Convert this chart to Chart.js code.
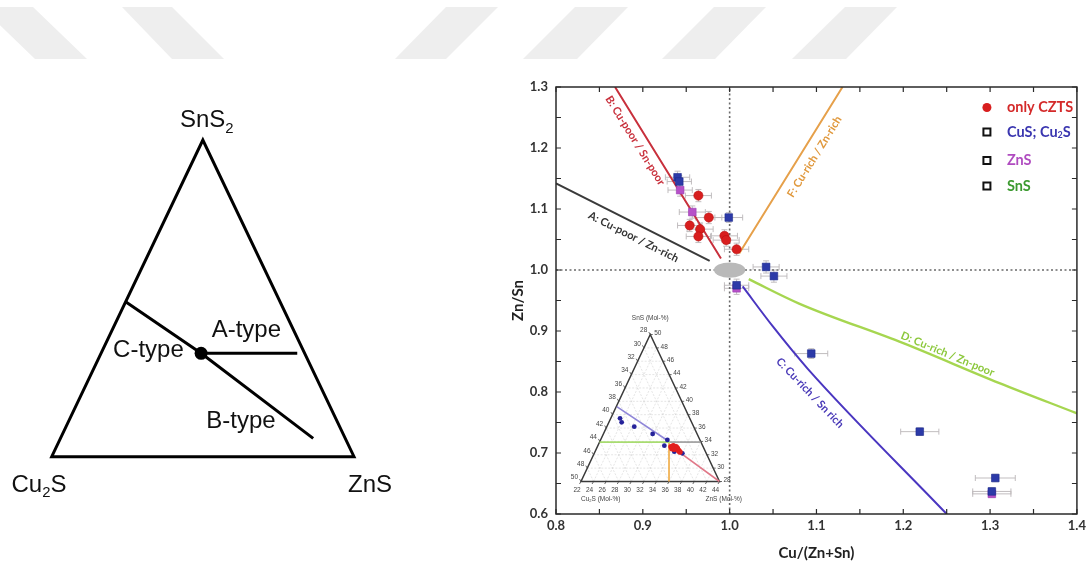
<!DOCTYPE html>
<html>
<head>
<meta charset="utf-8">
<title>CZTS composition map</title>
<script src="https://cdn.jsdelivr.net/npm/chart.js@4.4.1/dist/chart.umd.min.js"></script>
<style>
  html, body { margin: 0; padding: 0; background: #fff; }
  #stage { position: relative; width: 1090px; height: 562px; overflow: hidden; background: #fff; }
  #stage svg, #stage canvas { position: absolute; left: 0; top: 0; }
</style>
</head>
<body>
<div id="stage">
  <svg width="1090" height="562" aria-hidden="true">
    <g fill="#eeeeee">
      <polygon points="-19,7 33,7 87,59 35,59"/>
      <polygon points="122,7 172,7 224,59 172,59"/>
      <polygon points="446,7 498,7 446,59 395,59"/>
      <polygon points="575,7 628,7 577,59 523,59"/>
      <polygon points="714,7 766,7 715,59 662,59"/>
      <polygon points="845,7 897,7 846,59 792,59"/>
    </g>
  </svg>
  <canvas id="phase" width="1090" height="562"></canvas>
  <canvas id="ratio" width="1090" height="562"></canvas>
  <canvas id="inset" width="1090" height="562"></canvas>
</div>
<script>
// ---------------- phase diagram: compositions as [Cu2S, ZnS, SnS2] ----------------
const phaseOutline = [[1, 0, 0], [0, 1, 0], [0, 0, 1], [1, 0, 0], [0, 1, 0]];
const cbTypeLine   = [[0.511, 0, 0.489], [0.3425, 0.331, 0.3265], [0.106, 0.836, 0.058]];
const aTypeLine    = [[0.3425, 0.331, 0.3265], [0.0245, 0.649, 0.3265]];
const stoichPoint  = [[0.3425, 0.331, 0.3265]];

// ---------------- ratio map: Cu/(Zn+Sn) vs Zn/Sn ----------------
const xTickValues = [0.8, 0.9, 1.0, 1.1, 1.2, 1.3, 1.4];
const yTickValues = [0.6, 0.7, 0.8, 0.9, 1.0, 1.1, 1.2, 1.3];

const cztsX    = [0.964, 0.976, 0.954, 0.966, 0.964, 0.994, 0.996, 1.008];
const cztsY    = [1.122, 1.086, 1.073, 1.067, 1.055, 1.056, 1.049, 1.034];
const cztsXErr = [0.015, 0.015, 0.014, 0.015, 0.014, 0.015, 0.015, 0.014];
const cztsYErr = [0.010, 0.010, 0.010, 0.010, 0.010, 0.010, 0.010, 0.010];

const cuSX    = [0.940, 0.942, 0.999, 1.042, 1.051, 1.008, 1.094, 1.219, 1.306, 1.302];
const cuSY    = [1.152, 1.145, 1.086, 1.005, 0.990, 0.975, 0.863, 0.735, 0.659, 0.637];
const cuSXErr = [0.014, 0.014, 0.016, 0.015, 0.015, 0.014, 0.019, 0.022, 0.023, 0.022];
const cuSYErr = [0.010, 0.010, 0.008, 0.010, 0.010, 0.010, 0.008, 0.006, 0.006, 0.006];

const znSX    = [0.943, 0.957, 1.008, 1.302];
const znSY    = [1.131, 1.095, 0.970, 0.633];
const znSXErr = [0.014, 0.015, 0.014, 0.022];
const znSYErr = [0.010, 0.010, 0.010, 0.006];

const guideH = [[0.8, 1.0], [1.4, 1.0]];
const guideV = [[1.0, 0.6], [1.0, 1.3]];

const lineA = [[0.800, 1.142], [0.977, 1.015]];
const lineB = [[0.868, 1.300], [0.990, 1.019]];
const lineF = [[1.011, 1.027], [1.130, 1.300]];
const lineD = [[1.022, 0.985], [1.080, 0.945], [1.200, 0.880], [1.310, 0.815], [1.400, 0.765]];
const lineC = [[1.015, 0.973], [1.050, 0.907], [1.090, 0.838], [1.250, 0.600]];

// stoichiometric region around Cu/(Zn+Sn) = Zn/Sn = 1
const stoichCentre = [1.0, 1.0];
const stoichHalf   = [0.018, 0.0125];

// ---------------- inset ternary (local triangle frame, 11 divisions) ----------------
const insetBottomTicks = ['22', '24', '26', '28', '30', '32', '34', '36', '38', '40', '42', '44'];
const insetSideTicks   = ['28', '30', '32', '34', '36', '38', '40', '42', '44', '46', '48', '50'];
const insetCuRich = [[3.10, 4.73], [3.23, 4.43], [4.23, 4.10], [5.69, 3.56], [6.86, 3.11], [6.62, 2.68], [7.41, 2.23], [8.05, 2.11]];
const insetCzts   = [[7.15, 2.60], [7.33, 2.68], [7.55, 2.60], [7.65, 2.49], [7.41, 2.41], [7.23, 2.46], [7.76, 2.31], [7.86, 2.21]];
const insetLineC = [[2.84, 5.60], [6.93, 3.03]];
const insetLineD = [[1.47, 2.95], [7.07, 2.95]];
const insetLineA = [[7.07, 2.95], [9.52, 2.95]];
const insetLineF = [[6.99, 2.95], [6.99, 0]];
const insetLineB = [[7.86, 2.16], [11, 0]];

// ---------------- helpers ----------------
const ternPlot = c => ({ x: c[1] + c[2] / 2, y: c[2] });
const pairs = arr => arr.map(p => ({ x: p[0], y: p[1] }));
const zipXY = (xs, ys) => xs.map((v, i) => ({ x: v, y: ys[i] }));

// split "Cu_2S" into plain and subscript runs
function runs(str) {
  const out = []; const re = /_(\d)/g; let last = 0, m;
  while ((m = re.exec(str))) {
    if (m.index > last) out.push({ t: str.slice(last, m.index), sub: false });
    out.push({ t: m[1], sub: true });
    last = re.lastIndex;
  }
  if (last < str.length) out.push({ t: str.slice(last), sub: false });
  return out;
}
function drawRich(ctx, str, x, y, size, family, weight, align, color) {
  const parts = runs(str);
  const f = s => `${weight} ${s}px ${family}`;
  let w = 0;
  parts.forEach(p => { ctx.font = f(p.sub ? size * 0.62 : size); p.w = ctx.measureText(p.t).width; w += p.w; });
  let cx = align === 'center' ? x - w / 2 : align === 'right' ? x - w : x;
  ctx.fillStyle = color; ctx.textAlign = 'left';
  parts.forEach(p => {
    ctx.font = f(p.sub ? size * 0.62 : size);
    ctx.fillText(p.t, cx, p.sub ? y + size * 0.22 : y);
    cx += p.w;
  });
}

const baseOpts = {
  responsive: false, animation: false, events: [], devicePixelRatio: 1,
  plugins: { legend: { display: false }, tooltip: { enabled: false } }
};

// ================= left: phase triangle =================
const phaseNames = [
  { text: 'SnS_2',  at: [0.513, 1.040] },
  { text: 'Cu_2S',  at: [-0.042, -0.1105] },
  { text: 'ZnS',    at: [1.053, -0.1105] },
  { text: 'A-type', at: [0.644, 0.379] },
  { text: 'C-type', at: [0.320, 0.316] },
  { text: 'B-type', at: [0.626, 0.090] }
];
const phaseLabels = {
  id: 'phaseLabels',
  afterDraw(chart) {
    const { ctx, scales: { x, y } } = chart;
    ctx.save(); ctx.textBaseline = 'alphabetic';
    phaseNames.forEach(n => drawRich(ctx, n.text, x.getPixelForValue(n.at[0]), y.getPixelForValue(n.at[1]),
      24, '"Liberation Sans", Arial, sans-serif', 'normal', 'center', '#111'));
    ctx.restore();
  }
};
const blackLine = { showLine: true, borderColor: '#000', borderWidth: 3, pointRadius: 0, clip: false, borderJoinStyle: 'miter' };
new Chart(document.getElementById('phase'), {
  type: 'scatter',
  data: { datasets: [
    { ...blackLine, data: phaseOutline.map(ternPlot), order: 3 },
    { ...blackLine, data: cbTypeLine.map(ternPlot), order: 2 },
    { ...blackLine, data: aTypeLine.map(ternPlot), order: 1 },
    { data: stoichPoint.map(ternPlot), pointRadius: 6.5, backgroundColor: '#000', borderWidth: 0, clip: false, order: 0 }
  ] },
  options: { ...baseOpts,
    layout: { padding: { left: 51.7, top: 140, right: 736, bottom: 105.3 } },
    scales: { x: { display: false, min: 0, max: 1 }, y: { display: false, min: 0, max: 1 } } },
  plugins: [phaseLabels]
});

// ================= right: ratio map =================
const lineNotes = [
  { text: 'A: Cu-poor / Zn-rich', line: lineA, at: 0.896, offset: -13, color: '#333333' },
  { text: 'B: Cu-poor / Sn-poor', line: lineB, at: 0.902, offset: -11, color: '#c8303c' },
  { text: 'F: Cu-rich / Zn-rich', line: lineF, at: 1.085, offset: -13, color: '#e0983c' },
  { text: 'D: Cu-rich / Zn-poor', line: lineD, at: 1.248, offset: 7,   color: '#8cc83c' },
  { text: 'C: Cu-rich / Sn rich', line: lineC, at: 1.105, offset: -15, color: '#4a3ab8' }
];
const legendItems = [
  { text: 'only CZTS',  color: '#d42a2a', marker: 'dot', dy: 20.5 },
  { text: 'CuS; Cu_2S', color: '#3a36b0', marker: 'box', dy: 45 },
  { text: 'ZnS',        color: '#b04cc0', marker: 'box', dy: 73.5 },
  { text: 'SnS',        color: '#3c9a30', marker: 'box', dy: 99 }
];

const framePlugin = {
  id: 'frame',
  afterDraw(chart) {
    const { ctx, chartArea: a, scales: { x, y } } = chart;
    ctx.save();
    ctx.strokeStyle = '#2a2a2a'; ctx.lineWidth = 1.5;
    ctx.strokeRect(a.left, a.top, a.right - a.left, a.bottom - a.top);
    ctx.lineWidth = 1.2; ctx.beginPath();
    const nx = Math.round((x.max - x.min) / 0.05), ny = Math.round((y.max - y.min) / 0.05);
    for (let i = 0; i <= nx; i++) {
      const px = x.getPixelForValue(x.min + i * 0.05);
      ctx.moveTo(px, a.bottom); ctx.lineTo(px, a.bottom - 5);
      ctx.moveTo(px, a.top); ctx.lineTo(px, a.top + 5);
    }
    for (let i = 0; i <= ny; i++) {
      const py = y.getPixelForValue(y.min + i * 0.05);
      ctx.moveTo(a.left, py); ctx.lineTo(a.left + 5, py);
      ctx.moveTo(a.right, py); ctx.lineTo(a.right - 5, py);
    }
    ctx.stroke(); ctx.restore();
  }
};

const errorBars = {
  id: 'errorBars',
  beforeDatasetsDraw(chart) {
    const { ctx, scales: { x, y } } = chart;
    ctx.save(); ctx.strokeStyle = 'rgba(190,185,188,0.95)'; ctx.lineWidth = 1;
    chart.data.datasets.forEach(ds => {
      if (!ds.errX) return;
      ds.data.forEach((p, j) => {
        const cx = x.getPixelForValue(p.x), cy = y.getPixelForValue(p.y);
        const x0 = x.getPixelForValue(p.x - ds.errX[j]), x1 = x.getPixelForValue(p.x + ds.errX[j]);
        const y0 = y.getPixelForValue(p.y - ds.errY[j]), y1 = y.getPixelForValue(p.y + ds.errY[j]);
        ctx.beginPath();
        ctx.moveTo(x0, cy); ctx.lineTo(x1, cy);
        ctx.moveTo(x0, cy - 3); ctx.lineTo(x0, cy + 3);
        ctx.moveTo(x1, cy - 3); ctx.lineTo(x1, cy + 3);
        ctx.moveTo(cx, y0); ctx.lineTo(cx, y1);
        ctx.moveTo(cx - 3, y0); ctx.lineTo(cx + 3, y0);
        ctx.moveTo(cx - 3, y1); ctx.lineTo(cx + 3, y1);
        ctx.stroke();
      });
    });
    ctx.restore();
  }
};

const stoichPatch = {
  id: 'stoichPatch',
  afterDatasetDraw(chart, args) {
    if (!chart.data.datasets[args.index].stoichAfter) return;
    const { ctx, scales: { x, y } } = chart;
    const cx = x.getPixelForValue(stoichCentre[0]), cy = y.getPixelForValue(stoichCentre[1]);
    const rx = Math.abs(x.getPixelForValue(stoichCentre[0] + stoichHalf[0]) - cx);
    const ry = Math.abs(y.getPixelForValue(stoichCentre[1] + stoichHalf[1]) - cy);
    ctx.save(); ctx.fillStyle = '#b9b9b9';
    ctx.beginPath(); ctx.ellipse(cx, cy, rx, ry, 0, 0, Math.PI * 2); ctx.fill();
    ctx.restore();
  }
};

function alongLine(chart, pts, xv) {
  const { x, y } = chart.scales;
  for (let i = 0; i < pts.length - 1; i++) {
    const [ax, ay] = pts[i], [bx, by] = pts[i + 1];
    if ((xv - ax) * (xv - bx) <= 0 || i === pts.length - 2) {
      const t = (xv - ax) / (bx - ax);
      const p0x = x.getPixelForValue(ax), p0y = y.getPixelForValue(ay);
      const p1x = x.getPixelForValue(bx), p1y = y.getPixelForValue(by);
      return { px: p0x + t * (p1x - p0x), py: p0y + t * (p1y - p0y), ang: Math.atan2(p1y - p0y, p1x - p0x) };
    }
  }
}
const lineLabels = {
  id: 'lineLabels',
  afterDatasetsDraw(chart) {
    const { ctx } = chart;
    lineNotes.forEach(n => {
      const p = alongLine(chart, n.line, n.at);
      let ang = p.ang;
      if (ang > Math.PI / 2) ang -= Math.PI;
      if (ang < -Math.PI / 2) ang += Math.PI;
      const ux = Math.sin(ang), uy = -Math.cos(ang);
      ctx.save();
      ctx.translate(p.px + ux * n.offset, p.py + uy * n.offset);
      ctx.rotate(ang);
      ctx.font = 'bold 11px Lato, "Open Sans", sans-serif';
      ctx.fillStyle = n.color; ctx.textAlign = 'center'; ctx.textBaseline = 'middle';
      ctx.fillText(n.text, 0, 0);
      ctx.restore();
    });
  }
};

const boxLegend = {
  id: 'boxLegend',
  afterDraw(chart) {
    const { ctx, chartArea: a } = chart;
    const mx = a.right - 90, tx = a.right - 70;
    ctx.save(); ctx.textBaseline = 'middle';
    legendItems.forEach(it => {
      const yy = a.top + it.dy;
      if (it.marker === 'dot') {
        ctx.fillStyle = '#d81e1e';
        ctx.beginPath(); ctx.arc(mx, yy, 4.5, 0, Math.PI * 2); ctx.fill();
      } else {
        ctx.fillStyle = '#fff'; ctx.strokeStyle = '#111'; ctx.lineWidth = 2;
        ctx.fillRect(mx - 3.5, yy - 3.5, 7, 7); ctx.strokeRect(mx - 3.5, yy - 3.5, 7, 7);
      }
      drawRich(ctx, it.text, tx, yy, 14.5, 'Lato, "Open Sans", sans-serif', 'bold', 'left', it.color);
    });
    ctx.restore();
  }
};

const tickFont = { family: 'Lato, "Open Sans", sans-serif', size: 13, weight: 'bold' };
const titleFont = { family: 'Lato, "Open Sans", sans-serif', size: 15, weight: 'bold' };
const guideStyle = { showLine: true, pointRadius: 0, borderColor: '#6a6a6a', borderWidth: 1.6, borderDash: [2, 2.5] };
const curveStyle = { showLine: true, pointRadius: 0, borderWidth: 2, cubicInterpolationMode: 'monotone' };

new Chart(document.getElementById('ratio'), {
  type: 'scatter',
  data: { datasets: [
    { ...guideStyle, data: pairs(guideH), order: 10 },
    { ...guideStyle, data: pairs(guideV), order: 9, stoichAfter: true },
    { ...curveStyle, data: pairs(lineA), borderColor: '#3a3a3a', order: 5 },
    { ...curveStyle, data: pairs(lineB), borderColor: '#c8303c', order: 5 },
    { ...curveStyle, data: pairs(lineF), borderColor: '#e6a04a', order: 5 },
    { ...curveStyle, data: pairs(lineD), borderColor: '#a6d650', borderWidth: 2.4, order: 5 },
    { ...curveStyle, data: pairs(lineC), borderColor: '#4a36c0', order: 5 },
    { label: 'ZnS', data: zipXY(znSX, znSY), errX: znSXErr, errY: znSYErr,
      pointStyle: 'rect', pointRadius: 5.4, backgroundColor: '#b650c8', borderColor: '#9a3cb0', borderWidth: 0.6, order: 3 },
    { label: 'CuS; Cu2S', data: zipXY(cuSX, cuSY), errX: cuSXErr, errY: cuSYErr,
      pointStyle: 'rect', pointRadius: 5.4, backgroundColor: '#2c3aa8', borderColor: '#1c2a8c', borderWidth: 0.6, order: 2 },
    { label: 'only CZTS', data: zipXY(cztsX, cztsY), errX: cztsXErr, errY: cztsYErr,
      pointStyle: 'circle', pointRadius: 4.6, backgroundColor: '#d81e1e', borderColor: '#b81010', borderWidth: 0.6, order: 1 }
  ] },
  options: { ...baseOpts,
    layout: { padding: { left: 505, right: 12, top: 87, bottom: 0 } },
    scales: {
      x: { type: 'linear', min: 0.8, max: 1.4,
        grid: { display: false, drawTicks: false }, border: { display: false },
        afterBuildTicks: s => { s.ticks = xTickValues.map(v => ({ value: v })); },
        ticks: { autoSkip: false, maxRotation: 0, padding: 4, color: '#333', font: tickFont, callback: v => v.toFixed(1) },
        title: { display: true, text: 'Cu/(Zn+Sn)', color: '#222', font: titleFont, padding: { top: 0, bottom: 0 } },
        afterFit: s => { s.height = 48; } },
      y: { type: 'linear', min: 0.6, max: 1.3,
        grid: { display: false, drawTicks: false }, border: { display: false },
        afterBuildTicks: s => { s.ticks = yTickValues.map(v => ({ value: v })); },
        ticks: { autoSkip: false, padding: 8, color: '#333', font: tickFont, callback: v => v.toFixed(1) },
        title: { display: true, text: 'Zn/Sn', color: '#222', font: titleFont, padding: { top: 4, bottom: 0 } },
        afterFit: s => { s.width = 51; } }
    } },
  plugins: [errorBars, stoichPatch, lineLabels, framePlugin, boxLegend]
});

// ================= inset ternary =================
function ternaryGrid(n) {
  const pts = [];
  for (let k = 1; k < n; k++) {
    pts.push({ x: k / 2, y: k }, { x: n - k / 2, y: k }, { x: k, y: null });
    pts.push({ x: k, y: 0 }, { x: k + (n - k) / 2, y: n - k }, { x: k, y: null });
    pts.push({ x: k, y: 0 }, { x: k / 2, y: k }, { x: k, y: null });
  }
  return pts;
}
const insetLabels = {
  id: 'insetLabels',
  afterDraw(chart) {
    const { ctx, scales: { x, y } } = chart;
    const n = insetBottomTicks.length - 1;
    const fam = '"Liberation Sans", Arial, sans-serif';
    ctx.save(); ctx.fillStyle = '#444'; ctx.font = `6.5px ${fam}`; ctx.textBaseline = 'middle';
    // tick marks
    ctx.strokeStyle = '#444'; ctx.lineWidth = 0.8; ctx.beginPath();
    for (let k = 0; k <= n; k++) {
      const bx = x.getPixelForValue(k), by = y.getPixelForValue(0);
      ctx.moveTo(bx, by); ctx.lineTo(bx - 1.5, by + 2.5);
      const rx = x.getPixelForValue(n - k / 2), ry = y.getPixelForValue(k);
      ctx.moveTo(rx, ry); ctx.lineTo(rx + 2.5, ry);
      const lx = x.getPixelForValue(k / 2), ly = y.getPixelForValue(k);
      ctx.moveTo(lx, ly); ctx.lineTo(lx - 1.5, ly - 2.5);
    }
    ctx.stroke();
    insetBottomTicks.forEach((t, k) => {
      ctx.textAlign = 'center';
      ctx.fillText(t, x.getPixelForValue(k) - 4, y.getPixelForValue(0) + 9);
    });
    insetSideTicks.forEach((t, k) => {
      ctx.textAlign = 'left';
      ctx.fillText(t, x.getPixelForValue(n - k / 2) + 4, y.getPixelForValue(k) - 1);
    });
    insetSideTicks.forEach((t, k) => {
      const j = n - k;
      ctx.textAlign = 'right';
      ctx.fillText(t, x.getPixelForValue(j / 2) - 3, y.getPixelForValue(j) - 4);
    });
    ctx.textAlign = 'center';
    ctx.fillText('SnS (Mol-%)', x.getPixelForValue(n / 2), y.getPixelForValue(n) - 16);
    drawRich(ctx, 'Cu_2S (Mol-%)', x.getPixelForValue(0), y.getPixelForValue(0) + 18, 6.5, fam, 'normal', 'left', '#444');
    drawRich(ctx, 'ZnS (Mol-%)', x.getPixelForValue(n) - 14, y.getPixelForValue(0) + 18, 6.5, fam, 'normal', 'left', '#444');
    ctx.restore();
  }
};
const thin = { showLine: true, pointRadius: 0, borderWidth: 1.6, clip: false };
new Chart(document.getElementById('inset'), {
  type: 'scatter',
  data: { datasets: [
    { ...thin, data: ternaryGrid(11), borderColor: '#d4d4d4', borderWidth: 0.6, borderDash: [2, 1.5], spanGaps: false, order: 20 },
    { ...thin, data: [{ x: 0, y: 0 }, { x: 11, y: 0 }, { x: 5.5, y: 11 }, { x: 0, y: 0 }, { x: 11, y: 0 }],
      borderColor: '#3a3a3a', borderWidth: 1.5, borderJoinStyle: 'miter', order: 10 },
    { ...thin, data: pairs(insetLineC), borderColor: '#8f86d8', order: 6 },
    { ...thin, data: pairs(insetLineD), borderColor: '#a8dc70', order: 6 },
    { ...thin, data: pairs(insetLineA), borderColor: '#9a9a9a', order: 6 },
    { ...thin, data: pairs(insetLineF), borderColor: '#f0b050', borderWidth: 1, order: 6 },
    { ...thin, data: pairs(insetLineB), borderColor: '#e07888', order: 6 },
    { data: pairs(insetCuRich), pointRadius: 2.4, backgroundColor: '#25229a', borderWidth: 0, clip: false, order: 2 },
    { data: pairs(insetCzts), pointRadius: 2.8, backgroundColor: '#e21e1e', borderWidth: 0, clip: false, order: 1 }
  ] },
  options: { ...baseOpts,
    layout: { padding: { left: 581, top: 334.5, right: 370.5, bottom: 80.5 } },
    scales: { x: { display: false, min: 0, max: 11 }, y: { display: false, min: 0, max: 11 } } },
  plugins: [insetLabels]
});
</script>
</body>
</html>
